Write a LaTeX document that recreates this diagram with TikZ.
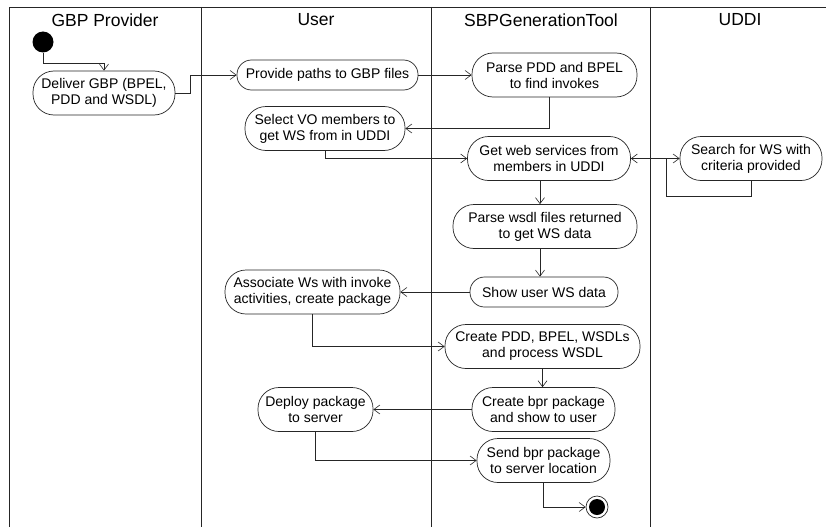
\documentclass[tikz,border=0pt]{standalone}
\usepackage{fontspec}
\setmainfont{Liberation Sans}
\usetikzlibrary{arrows.meta}
\begin{document}
\begin{tikzpicture}[x=1pt,y=-1pt,
  lane/.style={line width=0.9pt, draw=black!85},
  act/.style={draw=black!85, line width=0.7pt, align=center, inner sep=0pt, font=\fontsize{14}{16}\selectfont},
  one/.style={act, minimum height=30pt, rounded corners=14.5pt},
  two/.style={act, minimum height=44pt, rounded corners=21pt},
  flow/.style={draw=black!85, line width=0.6pt, -{Straight Barb[length=6pt,width=9pt]}},
  hdr/.style={font=\fontsize{17.5}{20}\selectfont, inner sep=0pt}]
\useasboundingbox (0,0) rectangle (829,527);
\fill[white] (0,0) rectangle (829,527);
% swimlanes
\draw[lane] (9,527) -- (9,7) -- (826,7);
\draw[lane] (201,7) -- (201,527);
\draw[lane] (431,7) -- (431,527);
\draw[lane] (650,7) -- (650,527);
% headers
\node[hdr] (h1) at (105,20) {GBP Provider};
\node[hdr] (h2) at (316,20) {User};
\node[hdr] (h3) at (541,20) {SBPGenerationTool};
\node[hdr] (h4) at (740,20) {UDDI};
% nodes
\node[circle, fill=black, minimum size=21pt, inner sep=0pt] (start) at (43,42) {};
\node[two, minimum width=142pt] (deliver) at (104,93) {Deliver GBP (BPEL,\\PDD and WSDL)};
\node[one, minimum width=181pt] (provide) at (327.5,75) {Provide paths to GBP files};
\node[two, minimum width=165pt] (parse) at (554.5,75) {Parse PDD and BPEL\\to find invokes};
\node[two, minimum width=160pt] (select) at (325,128.5) {Select VO members to\\get WS from in UDDI};
\node[two, minimum width=163pt] (getws) at (549,158.5) {Get web services from\\members in UDDI};
\node[two, minimum width=142pt] (search) at (751,158.5) {Search for WS with\\criteria provided};
\node[two, minimum width=184pt] (parsewsdl) at (545,226.5) {Parse wsdl files returned\\to get WS data};
\node[one, minimum width=148pt] (showws) at (544,292) {Show user WS data};
\node[two, minimum width=175pt] (assoc) at (312.5,292) {Associate Ws with invoke\\activities, create package};
\node[two, minimum width=195pt] (createpdd) at (542.5,346.5) {Create PDD, BPEL, WSDLs\\and process WSDL};
\node[two, minimum width=143pt] (createbpr) at (543.5,409.5) {Create bpr package\\and show to user};
\node[two, minimum width=115pt] (deploy) at (315.5,409.5) {Deploy package\\to server};
\node[two, minimum width=133pt] (send) at (543.5,460.5) {Send bpr package\\to server location};
\node[circle, draw=black!85, line width=0.7pt, minimum size=22pt, inner sep=0pt] (end) at (597,507) {};
\fill (end.center) circle (8pt);
\coordinate (loop) at (666,196);
% connectors
\draw[flow] (start.south) -- (43,63) -| (deliver.north);
\draw[flow] (deliver.east) -- ++(15,0) |- (provide.west);
\draw[flow] (provide.east) -- (parse.west);
\draw[flow] ([xshift=-5pt]parse.south) |- (select.east);
\draw[flow] (select.south) |- (getws.west);
\draw[flow] (getws.east) -- (search.west);
\draw[flow] (search.south) |- (loop) |- (getws.east);
\draw[flow] ([xshift=-9pt]getws.south) -- ([xshift=-9pt]getws.south |- parsewsdl.north);
\draw[flow] ([xshift=-5pt]parsewsdl.south) -- ([xshift=-5pt]parsewsdl.south |- showws.north);
\draw[flow] (showws.west) -- (assoc.east);
\draw[flow] (assoc.south) |- (createpdd.west);
\draw[flow] (createpdd.south) -- (createpdd.south |- createbpr.north);
\draw[flow] (createbpr.west) -- (deploy.east);
\draw[flow] (deploy.south) |- (send.west);
\draw[flow] (send.south) |- (end.west);
\end{tikzpicture}
\end{document}
